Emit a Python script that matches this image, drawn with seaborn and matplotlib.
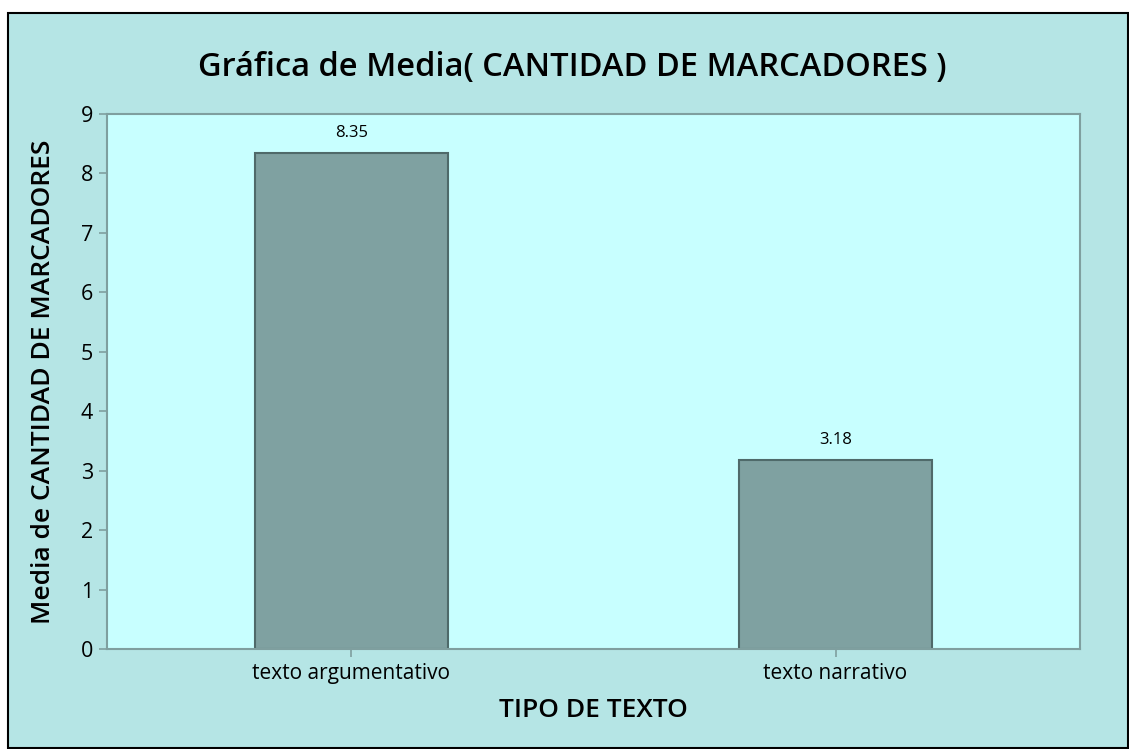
import pandas as pd
import matplotlib.pyplot as plt
import seaborn as sns
from matplotlib.patches import Rectangle

categorias = ["texto argumentativo", "texto narrativo"]
medias = [8.35, 3.18]
etiquetas = ["8.35", "3.18"]

df = pd.DataFrame({"tipo": categorias, "media": medias})

sns.set_style("white")
plt.rcParams["font.family"] = ["Open Sans", "DejaVu Sans"]
plt.rcParams["text.color"] = "black"
plt.rcParams["axes.labelcolor"] = "black"
plt.rcParams["xtick.color"] = "black"
plt.rcParams["ytick.color"] = "black"

W, H = 1129, 749
fig = plt.figure(figsize=(W / 100, H / 100), dpi=100, facecolor="white")

# fondo con borde negro
fig.patches.append(Rectangle((8 / W, 1 / H), (W - 9) / W, (H - 14) / H,
                             transform=fig.transFigure, facecolor="#B5E5E5",
                             edgecolor="black", linewidth=1.5, zorder=-10))

ax = fig.add_axes([107 / W, 1 - 649 / H, 973 / W, 535 / H])
ax.set_facecolor("#C8FFFF")

sns.barplot(data=df, x="tipo", y="media", color="#7FA1A1", width=0.4,
            edgecolor="#4F6A6A", linewidth=1.5, saturation=1, ax=ax)
for p, t in zip(ax.patches, etiquetas):
    ax.text(p.get_x() + p.get_width() / 2, p.get_height() + 0.2, t,
            ha="center", va="bottom", fontsize=12, color="black")

ax.set_xlim(-0.505, 1.505)
ax.set_ylim(0, 9)
ax.set_yticks(range(0, 10))

for s in ax.spines.values():
    s.set_color("#7F9F9F")
    s.set_linewidth(1.5)

ax.tick_params(axis="both", direction="out", length=6, width=1.2, color="#7F9F9F",
               labelcolor="black", labelsize=15, pad=4, bottom=True, left=True)
ax.tick_params(axis="y", labelsize=15.5)
for lbl in ax.get_xticklabels() + ax.get_yticklabels():
    lbl.set_fontweight("medium")

ax.set_xlabel("TIPO DE TEXTO", fontsize=19, fontweight="semibold", labelpad=10)
ax.set_ylabel("Media de CANTIDAD DE MARCADORES", fontsize=19, fontweight="semibold",
              labelpad=18)
fig.text(572 / W, 1 - 68 / H, "Gráfica de Media( CANTIDAD DE MARCADORES )",
         ha="center", va="center", fontsize=23.5, fontweight="semibold", color="black")

plt.savefig("out.png", dpi=100, facecolor=fig.get_facecolor())
